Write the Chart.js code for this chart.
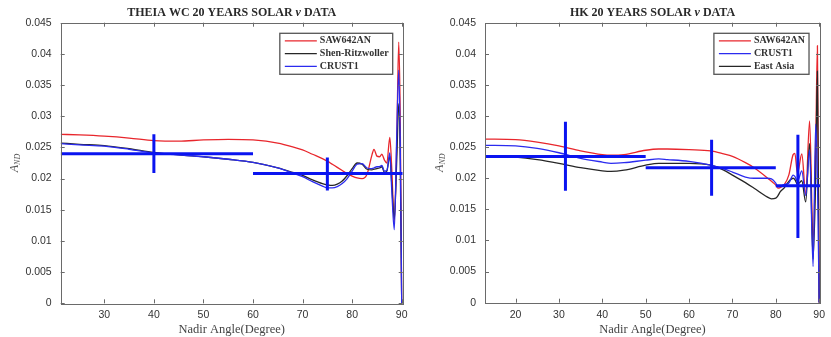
<!DOCTYPE html>
<html><head><meta charset="utf-8">
<script src="https://cdn.jsdelivr.net/npm/chart.js@4"></script>
<style>
html,body{margin:0;padding:0;background:#fff;width:831px;height:337px;overflow:hidden}
#w{position:relative;width:831px;height:337px}
canvas{position:absolute;top:0}
</style></head><body><div id="w">
<canvas id="c1" width="415" height="337" style="left:0"></canvas>
<canvas id="c2" width="416" height="337" style="left:415px"></canvas>
</div>
<script>
// ---------- Left panel: THEIA WC ----------
const leftAngles = [21.2,25,30,35,40,45,50,55,60,65,68,70,72,74,75,76,77,78,79,80,81,82,83,84,84.4,85,85.5,86,86.5,87,87.6,88,88.5,89,89.4,89.7,90];
const leftSAW = [0.0271,0.0270,0.0268,0.0265,0.0261,0.0260,0.0262,0.0263,0.0262,0.0257,0.0251,0.0246,0.0239,0.0232,0.0228,0.0223,0.0218,0.0213,0.0208,0.0204,0.0201,0.0200,0.0207,0.0238,0.0247,0.0236,0.0235,0.0239,0.0230,0.0225,0.0266,0.0215,0.0130,0.0260,0.0419,0.0300,0];
const leftShen = [0.0257,0.0255,0.0253,0.0248,0.0242,0.0238,0.0235,0.0231,0.0226,0.0217,0.0210,0.0205,0.0198,0.0192,0.0190,0.0189,0.0191,0.0196,0.0205,0.0216,0.0225,0.0223,0.0215,0.0214,0.0215,0.0216,0.0217,0.0219,0.0210,0.0212,0.0236,0.0190,0.0135,0.0230,0.0320,0.0230,0];
const leftCRUST = [0.0256,0.0254,0.0252,0.0247,0.0241,0.0238,0.0235,0.0231,0.0226,0.0217,0.0209,0.0203,0.0195,0.0188,0.0185,0.0185,0.0187,0.0192,0.0200,0.0212,0.0223,0.0224,0.0217,0.0216,0.0217,0.0219,0.0219,0.0221,0.0212,0.0213,0.0241,0.0180,0.0118,0.0270,0.0374,0.0260,0];
// error bars: bin [from,to], centre angle, value, low, high
const leftBinFrom = [21.2,60];
const leftBinTo = [60,90.2];
const leftBinCentre = [40,75];
const leftBinValue = [0.0240,0.0208];
const leftBinLow = [0.0209,0.0181];
const leftBinHigh = [0.0271,0.0234];
const leftXTicks = [30,40,50,60,70,80,90];

// ---------- Right panel: HK ----------
const rightAngles = [13,20,25,30,35,40,42,45,50,53,55,60,65,68,70,73,75,78,79,80,80.5,81,82,83,84,84.4,85,86,86.9,87.8,88.6,89.2,89.6,90];
const rightSAW = [0.0263,0.0262,0.0258,0.0252,0.0244,0.0238,0.0237,0.0238,0.0245,0.0247,0.0247,0.0246,0.0244,0.0239,0.0235,0.0225,0.0217,0.0201,0.0195,0.0189,0.0184,0.0185,0.0190,0.0205,0.0238,0.0240,0.0208,0.0239,0.0175,0.0292,0.0100,0.0250,0.0413,0];
const rightCRUST = [0.0253,0.0252,0.0248,0.0241,0.0232,0.0226,0.0224,0.0225,0.0229,0.0231,0.0230,0.0227,0.0221,0.0215,0.0210,0.0202,0.0200,0.0200,0.0199,0.0192,0.0186,0.0187,0.0190,0.0192,0.0205,0.0203,0.0195,0.0212,0.0172,0.0245,0.0058,0.0287,0.0200,0];
const rightEastAsia = [0.0236,0.0234,0.0230,0.0224,0.0217,0.0212,0.0211,0.0213,0.0221,0.0224,0.0224,0.0224,0.0221,0.0213,0.0205,0.0193,0.0184,0.0170,0.0167,0.0168,0.0172,0.0178,0.0185,0.0195,0.0200,0.0198,0.0190,0.0196,0.0162,0.0256,0.0070,0.0200,0.0372,0];
const rightBinFrom = [13,50,80];
const rightBinTo = [50,80,90.2];
const rightBinCentre = [31.5,65.2,85.1];
const rightBinValue = [0.0235,0.0217,0.0188];
const rightBinLow = [0.0180,0.0172,0.0104];
const rightBinHigh = [0.0291,0.0262,0.0270];
const rightXTicks = [20,30,40,50,60,70,80,90];

const yTicks = [0,0.005,0.01,0.015,0.02,0.025,0.03,0.035,0.04,0.045];

const RED = '#e8262c', BLUE = '#2b2bef', BLACK = '#262626', BAR = '#0a14f0';
const fmt = v => String(+(+v).toFixed(3));
const pts = (xs, ys) => xs.map((x, i) => ({x, y: ys[i]}));

function curve(label, xs, ys, color, order) {
  return {label, data: pts(xs, ys), borderColor: color, backgroundColor: color,
    borderWidth: 1.3, pointRadius: 0, cubicInterpolationMode: 'monotone', order, isCurve: true};
}
function bars(from, to, centre, val, low, high) {
  const out = [];
  for (let i = 0; i < from.length; i++) {
    out.push({data: [{x: from[i], y: val[i]}, {x: to[i], y: val[i]}], borderColor: BAR, borderWidth: 3, pointRadius: 0, order: 0, borderCapStyle: 'butt'});
    out.push({data: [{x: centre[i], y: low[i]}, {x: centre[i], y: high[i]}], borderColor: BAR, borderWidth: 3, pointRadius: 0, order: 0, borderCapStyle: 'butt'});
  }
  return out;
}

const decor = {
  id: 'decor',
  afterDraw(chart, args, o) {
    const ctx = chart.ctx, a = chart.chartArea, xs = chart.scales.x, ys = chart.scales.y;
    ctx.save();
    // box
    ctx.strokeStyle = '#6a6a6a'; ctx.lineWidth = 1;
    ctx.strokeRect(Math.round(a.left) + 0.5, Math.round(a.top) + 0.5, Math.round(a.right - a.left), Math.round(a.bottom - a.top));
    // inward ticks
    ctx.beginPath();
    xs.ticks.forEach(t => { const p = Math.round(xs.getPixelForValue(t.value)) + 0.5;
      ctx.moveTo(p, a.bottom); ctx.lineTo(p, a.bottom - 4); ctx.moveTo(p, a.top); ctx.lineTo(p, a.top + 4); });
    ys.ticks.forEach(t => { const p = Math.round(ys.getPixelForValue(t.value)) + 0.5;
      ctx.moveTo(a.left, p); ctx.lineTo(a.left + 4, p); ctx.moveTo(a.right, p); ctx.lineTo(a.right - 4, p); });
    ctx.stroke();
    const cx = (a.left + a.right) / 2;
    // title with italic nu
    ctx.fillStyle = '#2a2a2a'; ctx.textBaseline = 'middle';
    const F = '12px "Liberation Serif"';
    const parts = [[o.title1, 'bold ' + F], ['ν', 'italic bold ' + F], [' DATA', 'bold ' + F]];
    let tw = 0; parts.forEach(p => { ctx.font = p[1]; tw += ctx.measureText(p[0]).width; });
    let x = cx - tw / 2;
    parts.forEach(p => { ctx.font = p[1]; ctx.textAlign = 'left'; ctx.fillText(p[0], x, 12.5); x += ctx.measureText(p[0]).width; });
    // x title
    ctx.fillStyle = '#444'; ctx.font = '12.5px "Liberation Serif"'; ctx.textAlign = 'center';
    ctx.fillText('Nadir Angle(Degree)', cx, 330);
    // y title A_ND
    ctx.save(); ctx.translate(o.yTitleX, (a.top + a.bottom) / 2); ctx.rotate(-Math.PI / 2);
    ctx.fillStyle = '#555';
    ctx.font = 'italic 12px "Liberation Serif"'; const wA = ctx.measureText('A').width;
    ctx.font = 'italic 8px "Liberation Serif"'; const wN = ctx.measureText('ND').width;
    const sx = -(wA + wN) / 2; ctx.textAlign = 'left';
    ctx.font = 'italic 12px "Liberation Serif"'; ctx.fillText('A', sx, 0);
    ctx.font = 'italic 8px "Liberation Serif"'; ctx.fillText('ND', sx + wA, 3);
    ctx.restore();
    // legend
    const items = chart.data.datasets.filter(d => d.isCurve);
    ctx.font = 'bold 10px "Liberation Serif"';
    const textW = Math.max(...items.map(d => ctx.measureText(d.label).width));
    const lineL = 32, gap = 3, padL = 5, padR = 4;
    const bw = padL + lineL + gap + textW + padR, bh = 41;
    const bx = a.right - o.legRight - bw, by = a.top + 10.6;
    ctx.fillStyle = '#fff'; ctx.fillRect(bx, by, bw, bh);
    ctx.strokeStyle = '#555'; ctx.lineWidth = 1.3; ctx.strokeRect(bx, by, bw, bh);
    items.forEach((d, i) => {
      const yy = by + 7.6 + i * 12.7;
      ctx.strokeStyle = d.borderColor; ctx.lineWidth = 1.3;
      ctx.beginPath(); ctx.moveTo(bx + padL, yy); ctx.lineTo(bx + padL + lineL, yy); ctx.stroke();
      ctx.fillStyle = '#333'; ctx.textAlign = 'left'; ctx.textBaseline = 'middle';
      ctx.fillText(d.label, bx + padL + lineL + gap, yy);
    });
    ctx.restore();
  }
};

function makeChart(id, xmin, xmax, xTicks, datasets, pad, yW, xH, opts) {
  return new Chart(document.getElementById(id), {
    type: 'line',
    data: {datasets},
    options: {
      responsive: false, animation: false, devicePixelRatio: 1,
      layout: {padding: pad},
      plugins: {legend: {display: false}, tooltip: {enabled: false}, decor: opts},
      scales: {
        x: {type: 'linear', min: xmin, max: xmax,
          afterBuildTicks: s => { s.ticks = xTicks.map(v => ({value: v})); },
          afterFit: s => { s.height = xH; },
          grid: {display: false, drawTicks: false, tickLength: 0}, border: {display: false},
          ticks: {padding: 6, color: '#333', font: {family: '"Liberation Sans"', size: 10.5}, maxRotation: 0, autoSkip: false}},
        y: {type: 'linear', min: 0, max: 0.045,
          afterBuildTicks: s => { s.ticks = yTicks.map(v => ({value: v})); },
          afterFit: s => { s.width = yW; },
          grid: {display: false, drawTicks: false, tickLength: 0}, border: {display: false},
          ticks: {padding: 9, color: '#333', font: {family: '"Liberation Sans"', size: 10.5}, callback: fmt}}
      }
    },
    plugins: [decor]
  });
}

makeChart('c1', 21.2, 90.2, leftXTicks,
  [...bars(leftBinFrom, leftBinTo, leftBinCentre, leftBinValue, leftBinLow, leftBinHigh),
   curve('SAW642AN', leftAngles, leftSAW, RED, 3),
   curve('Shen-Ritzwoller', leftAngles, leftShen, BLACK, 2),
   curve('CRUST1', leftAngles, leftCRUST, BLUE, 1)],
  {left: 0, top: 22.7, right: 12.3, bottom: 0}, 60.7, 33.7,
  {title1: 'THEIA WC 20 YEARS SOLAR ', yTitleX: 15, legRight: 10});

makeChart('c2', 12.95, 90.2, rightXTicks,
  [...bars(rightBinFrom, rightBinTo, rightBinCentre, rightBinValue, rightBinLow, rightBinHigh),
   curve('SAW642AN', rightAngles, rightSAW, RED, 3),
   curve('CRUST1', rightAngles, rightCRUST, BLUE, 1),
   curve('East Asia', rightAngles, rightEastAsia, BLACK, 2)],
  {left: 0, top: 22.7, right: 2.7, bottom: 0}, 70, 34.3,
  {title1: 'HK 20 YEARS SOLAR ', yTitleX: 25, legRight: 11});
</script>
</body></html>
